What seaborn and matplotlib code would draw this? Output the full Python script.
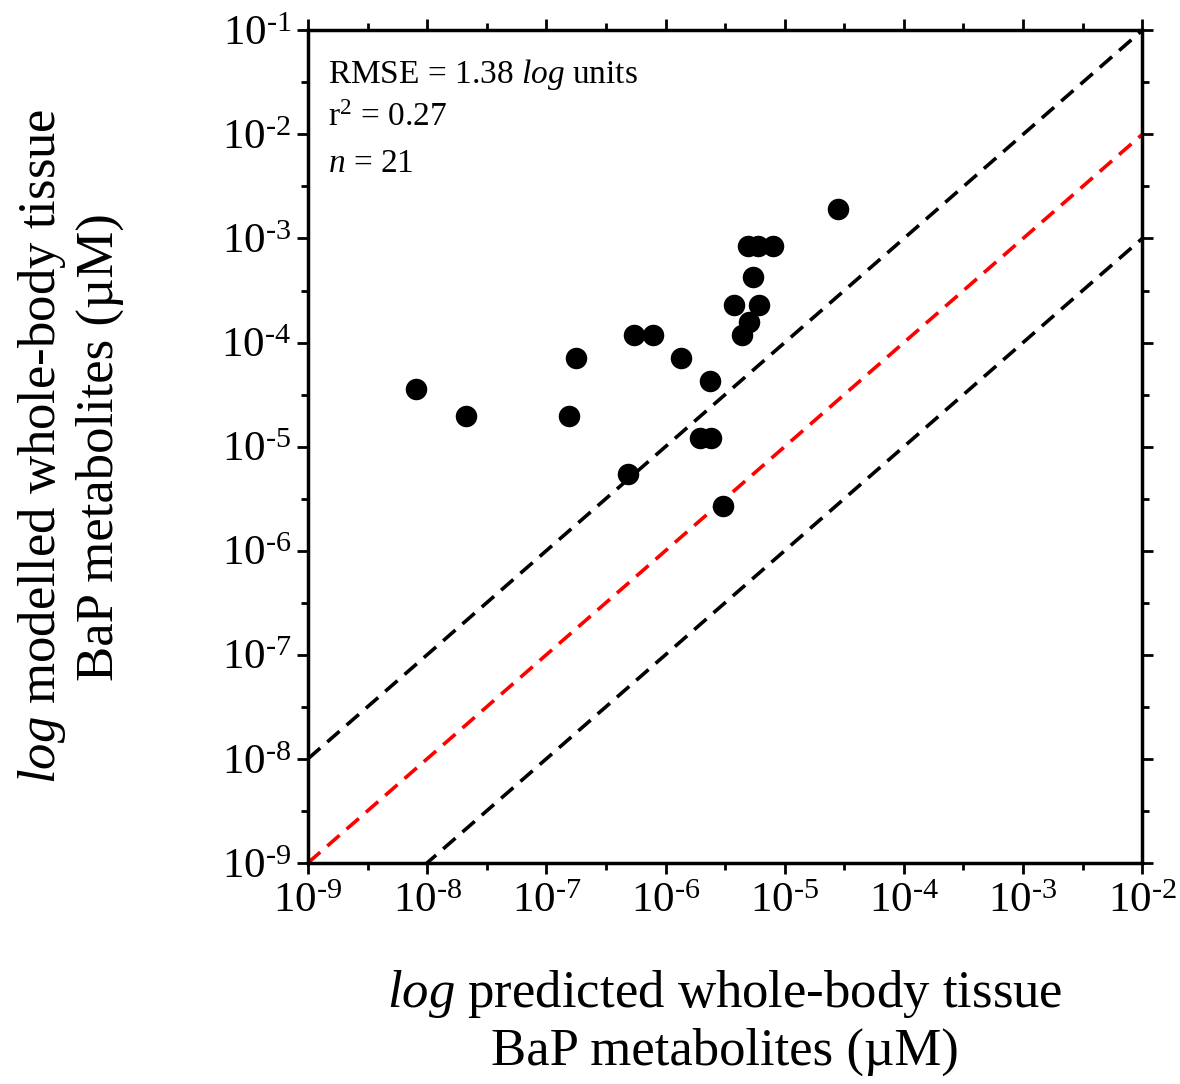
import numpy as np
import pandas as pd
import matplotlib
matplotlib.use("Agg")
import matplotlib.pyplot as plt
import matplotlib.ticker as mticker
import seaborn as sns

# predicted (x) vs modelled (y) whole-body tissue BaP metabolites, uM
predicted = [8.1e-9, 2.1e-8, 1.55e-7, 1.78e-7, 5.4e-7, 7.9e-7, 1.36e-6,
             4.8e-7, 1.95e-6, 2.42e-6, 2.37e-6, 3.05e-6, 2.82e-5, 4.94e-6,
             6.0e-6, 8.0e-6, 5.44e-6, 3.78e-6, 6.12e-6, 5.05e-6, 4.41e-6]
modelled = [3.6e-5, 1.97e-5, 1.97e-5, 7.1e-5, 1.18e-4, 1.18e-4, 7.1e-5,
            5.4e-6, 1.21e-5, 1.21e-5, 4.3e-5, 2.7e-6, 1.91e-3, 8.5e-4,
            8.5e-4, 8.5e-4, 4.3e-4, 2.3e-4, 2.3e-4, 1.57e-4, 1.18e-4]
line_x = [1e-9, 1e-2]
stats_text = ["RMSE = 1.38 $\\mathit{log}$ units", "r$^{2}$ = 0.27", "$\\mathit{n}$ = 21"]

df = pd.DataFrame({"predicted": predicted, "modelled": modelled})

sns.set_style("white")
plt.rcParams["font.family"] = ["Liberation Serif", "DejaVu Serif"]
plt.rcParams["mathtext.fontset"] = "custom"
plt.rcParams["mathtext.rm"] = "Liberation Serif"
plt.rcParams["mathtext.it"] = "Liberation Serif:italic"
plt.rcParams["mathtext.bf"] = "Liberation Serif:bold"
plt.rcParams["text.color"] = "black"
plt.rcParams["axes.labelcolor"] = "black"


def pow10(v, pos):
    k = int(round(np.log10(v)))
    return "10$^{\\text{%d}}$" % k


fig = plt.figure(figsize=(11.8, 10.84), dpi=100)
ax = fig.add_axes([0.261, 0.204, 0.707, 0.768])

# 1:1 line and factor-of-10 lines
dash = (0, (4.5, 2.6))
ax.plot(line_x, [v * 10 for v in line_x], ls=dash, color="black", lw=2.6)
ax.plot(line_x, line_x, ls=dash, color="red", lw=2.6)
ax.plot(line_x, [v / 10 for v in line_x], ls=dash, color="black", lw=2.6)

sns.scatterplot(data=df, x="predicted", y="modelled", ax=ax, s=240,
                color="black", edgecolor="black", linewidth=0, zorder=3)

ax.set_xscale("log")
ax.set_yscale("log")
ax.set_xlim(1e-9, 1e-2)
ax.set_ylim(1e-9, 1e-1)

ax.xaxis.set_major_locator(mticker.FixedLocator([10.0 ** k for k in range(-9, -1)]))
ax.yaxis.set_major_locator(mticker.FixedLocator([10.0 ** k for k in range(-9, 0)]))
ax.xaxis.set_minor_locator(mticker.FixedLocator([10.0 ** (k + 0.5) for k in range(-9, -2)]))
ax.yaxis.set_minor_locator(mticker.FixedLocator([10.0 ** (k + 0.5) for k in range(-9, -1)]))
ax.xaxis.set_major_formatter(mticker.FuncFormatter(pow10))
ax.yaxis.set_major_formatter(mticker.FuncFormatter(pow10))
ax.xaxis.set_minor_formatter(mticker.NullFormatter())
ax.yaxis.set_minor_formatter(mticker.NullFormatter())

ax.tick_params(which="both", direction="out", top=True, right=True,
               bottom=True, left=True, width=2, colors="black")
ax.tick_params(which="major", length=8, labelsize=31, pad=4)
ax.tick_params(which="minor", length=5)
ax.tick_params(axis="x", which="major", pad=6)

for sp in ax.spines.values():
    sp.set_linewidth(2.5)
    sp.set_color("black")

ax.set_xlabel("$\\mathit{log}$ predicted whole-body tissue\nBaP metabolites (µM)",
              fontsize=38, labelpad=34, linespacing=1.22)
ax.set_ylabel("$\\mathit{log}$ modelled whole-body tissue\nBaP metabolites (µM)",
              fontsize=38, labelpad=70, linespacing=1.22)

for i, t in enumerate(stats_text):
    ax.text(0.024, 0.968 - i * 0.055, t, transform=ax.transAxes,
            fontsize=24, va="top", ha="left")

fig.savefig("out.png", dpi=100)
